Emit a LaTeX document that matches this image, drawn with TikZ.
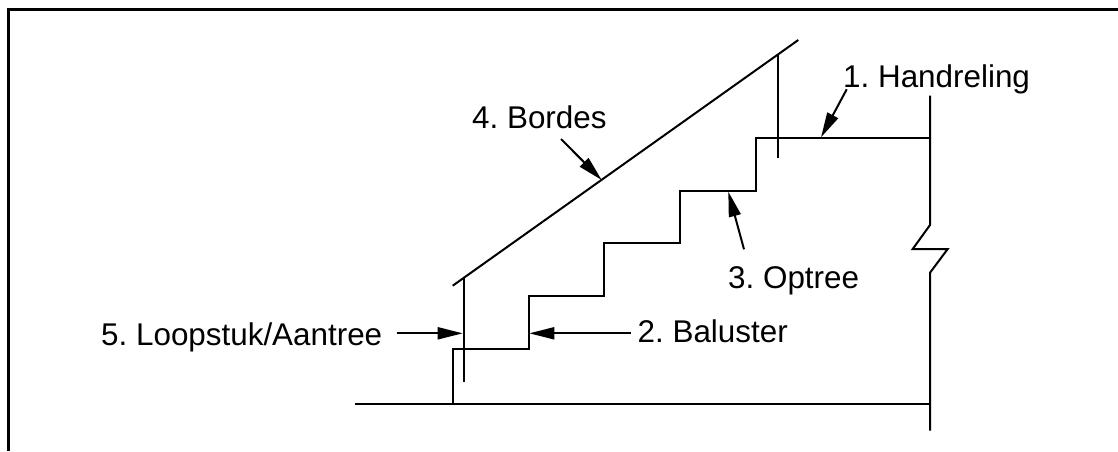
\documentclass[tikz,border=0pt]{standalone}
\usepackage{fontspec}
\setmainfont{Liberation Sans}
\usetikzlibrary{arrows.meta}
\frenchspacing
\tikzset{x=1pt,y=-1pt,
 line/.style={line width=2pt,line cap=butt,line join=miter},
 lead/.style={line width=2pt,-{Triangle[length=25pt,width=12pt]}},
 lab/.style={font=\fontsize{31.4}{34}\selectfont,anchor=base west,inner sep=0pt,text=black},
 frame/.style={line width=3.2pt}}
\begin{document}
\begin{tikzpicture}
\useasboundingbox (0,0) rectangle (1118,451);
\fill[white] (0,0) rectangle (1118,451);
\draw[frame] (8.3,451) -- (8.3,9.6) -- (1118,9.6);
\coordinate (s1) at (355,404.4);
\coordinate (s2) at (930,404.4);
\draw[line] (s1) -- (s2);
\draw[line] (453.4,404.4) -- (453.4,349.4) -- (528.8,349.4) -- (528.8,296) -- (604.4,296) -- (604.4,243) -- (680.4,243) -- (680.4,190.6) -- (756.4,190.6) -- (756.4,137.6) -- (930,137.6);
\draw[line] (930,95.7) -- (930,225) -- (912.7,249) -- (947.7,249) -- (930,272.7) -- (930,430.7);
\draw[line] (452.7,285.7) -- (798.3,40);
\draw[line] (463.7,278) -- (463.7,382);
\draw[line] (777.7,54) -- (777.7,158.3);
\node[lab] (n1) at (843,87.5) {1. Handreling};
\node[lab] (n3) at (728,288.3) {3. Optree};
\node[lab] (n4) at (472,128.5) {4. Bordes};
\node[lab] (n5) at (101,345) {5. Loopstuk/Aantree};
\node[lab] (n2) at (637.5,342.5) {2. Baluster};
\coordinate (a1a) at (846.7,89.3);\coordinate (a1b) at (821,137.3);
\coordinate (a3a) at (744,249.3);\coordinate (a3b) at (728.3,191.7);
\coordinate (a4a) at (561,139);\coordinate (a4b) at (601.7,180);
\coordinate (a5a) at (396.7,333.3);\coordinate (a5b) at (462.7,333.3);
\coordinate (a2a) at (630.7,333.3);\coordinate (a2b) at (529.3,333.3);
\draw[lead] (a1a) -- (a1b);
\draw[lead] (a3a) -- (a3b);
\draw[lead] (a4a) -- (a4b);
\draw[lead] (a5a) -- (a5b);
\draw[lead] (a2a) -- (a2b);
\end{tikzpicture}
\end{document}
